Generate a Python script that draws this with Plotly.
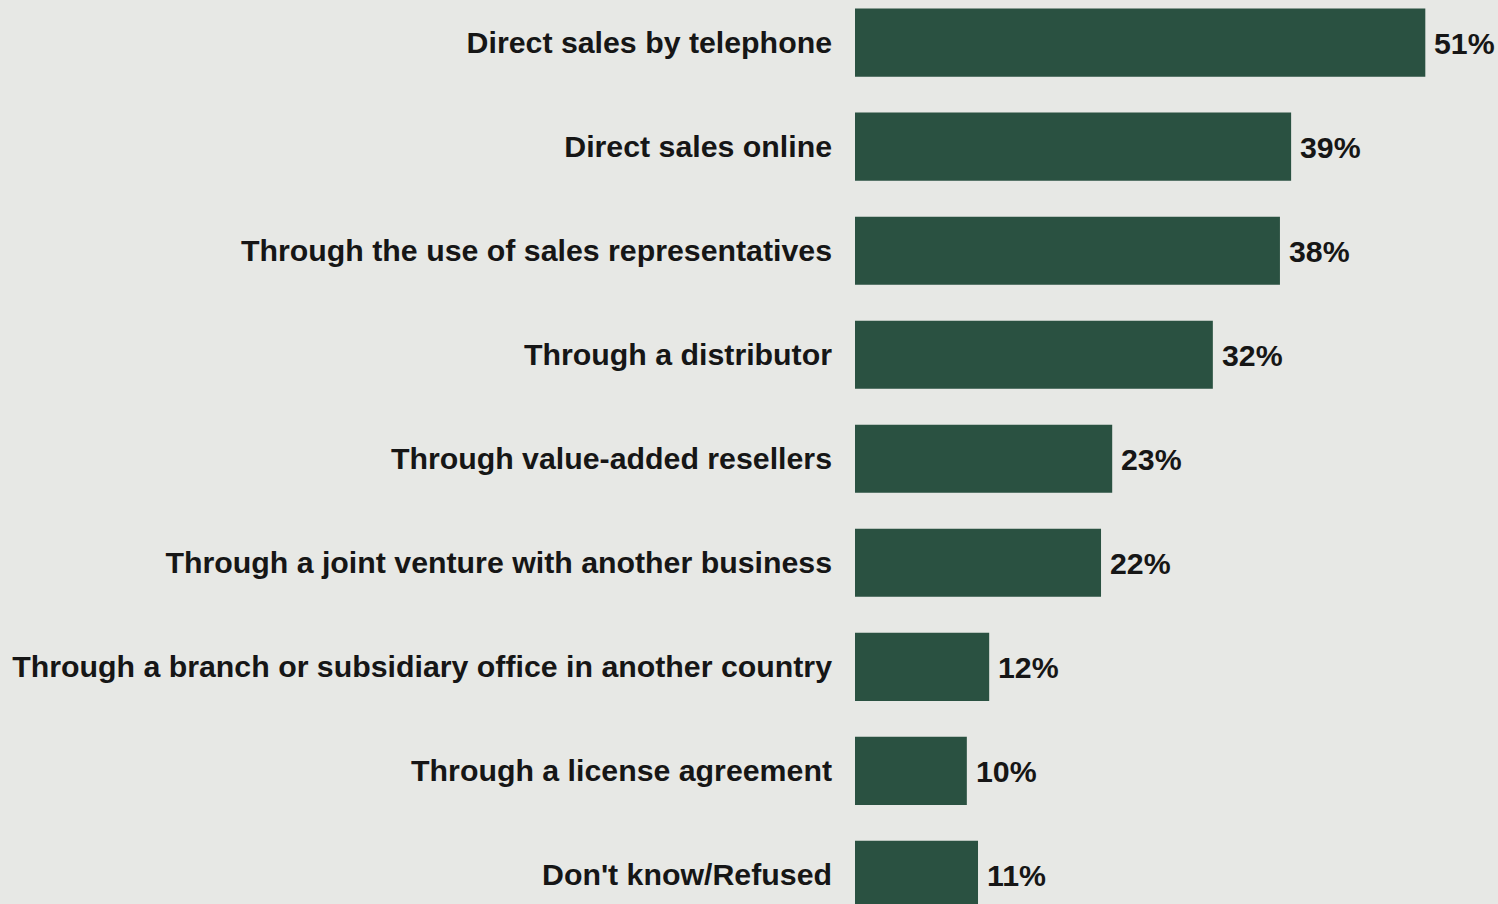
import plotly.graph_objects as go

# Sales channels and share of respondents using each (%)
channels = [
    "Direct sales by telephone",
    "Direct sales online",
    "Through the use of sales representatives",
    "Through a distributor",
    "Through value-added resellers",
    "Through a joint venture with another business",
    "Through a branch or subsidiary office in another country",
    "Through a license agreement",
    "Don't know/Refused",
]
shares = [51, 39, 38, 32, 23, 22, 12, 10, 11]
value_labels = [f"{v}%" for v in shares]

BAR_COLOR = "#2a5141"
BG_COLOR = "#e7e8e5"
TEXT_COLOR = "#161616"
FONT = "Liberation Sans, Arial, sans-serif"
FONT_SIZE = 30.3

fig = go.Figure(
    go.Bar(
        x=shares,
        y=channels,
        orientation="h",
        marker=dict(color=BAR_COLOR, line=dict(width=0)),
        width=0.655,
        hoverinfo="skip",
    )
)

# Percentage labels just past the end of each bar
for ch, v, lab in zip(channels, shares, value_labels):
    fig.add_annotation(
        x=v, y=ch, text=f"<b>{lab}</b>", showarrow=False,
        xanchor="left", yanchor="middle", xshift=7, yshift=-1,
        font=dict(family=FONT, size=FONT_SIZE, color=TEXT_COLOR),
    )

fig.update_layout(
    width=1498,
    height=904,
    margin=dict(l=855, r=0, t=0, b=0),
    paper_bgcolor=BG_COLOR,
    plot_bgcolor=BG_COLOR,
    showlegend=False,
    font=dict(family=FONT, color=TEXT_COLOR),
)
fig.update_xaxes(range=[0, 57.5], visible=False, fixedrange=True)
fig.update_yaxes(
    categoryorder="array",
    categoryarray=channels,
    range=[8.28, -0.41],
    showgrid=False,
    zeroline=False,
    showline=False,
    ticks="",
    ticklabelstandoff=22,
    tickfont=dict(family=FONT, size=FONT_SIZE, color=TEXT_COLOR),
    tickvals=channels,
    ticktext=[f"<b>{c}</b>" for c in channels],
)

fig.write_html("out.html")
